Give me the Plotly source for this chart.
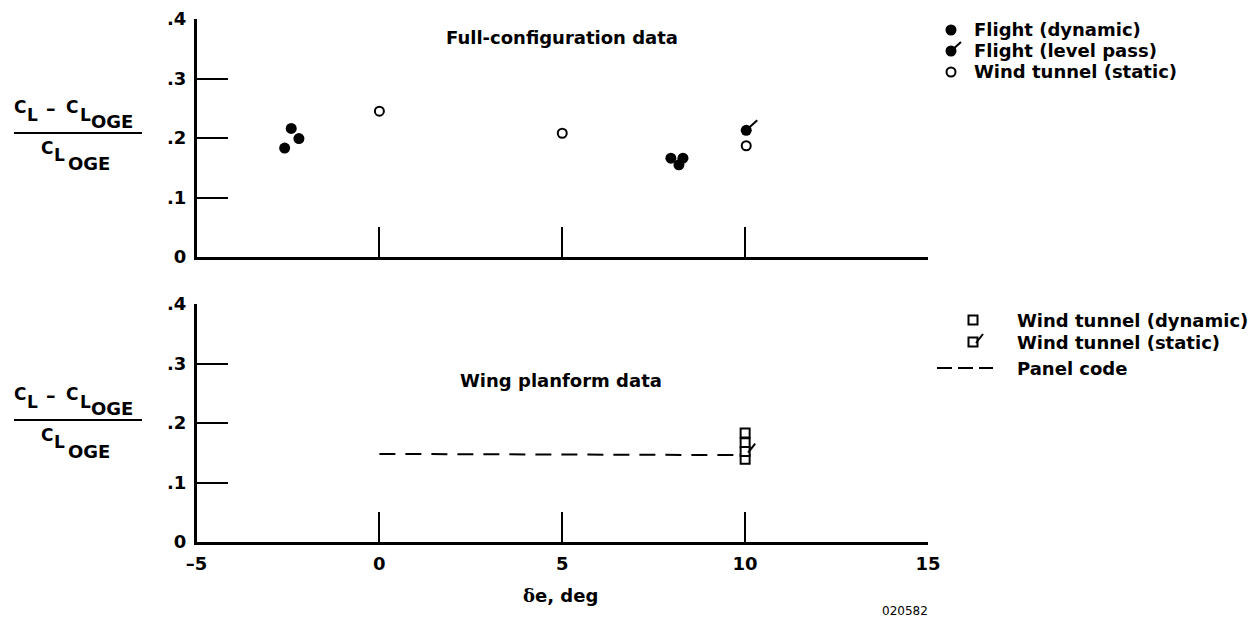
import plotly.graph_objects as go

W, H = 1251, 618

# ---------------- data ----------------
# Full-configuration data (top panel)
flight_dyn_x = [-2.59, -2.41, -2.20, 7.97, 8.30, 8.19]
flight_dyn_y = [0.183, 0.216, 0.199, 0.166, 0.166, 0.155]
flight_level_x = [10.03]
flight_level_y = [0.213]
wt_static_top_x = [0.0, 5.0, 10.03]
wt_static_top_y = [0.245, 0.208, 0.187]

# Wing planform data (bottom panel)
wt_dyn_x = [10.0, 10.0, 10.0]
wt_dyn_y = [0.183, 0.167, 0.139]
wt_static_bot_x = [10.0]
wt_static_bot_y = [0.152]
panel_x = [0.0, 10.0]
panel_y = [0.148, 0.146]

x_tickvals = [-5, 0, 5, 10, 15]
x_ticktext = ["\u20135", "0", "5", "10", "15"]
y_tickvals = [0, 0.1, 0.2, 0.3, 0.4]
y_ticktext = ["0", ".1", ".2", ".3", ".4"]

legend_top = ["Flight (dynamic)", "Flight (level pass)", "Wind tunnel (static)"]
legend_bot = ["Wind tunnel (dynamic)", "Wind tunnel (static)", "Panel code"]

FONT = "DejaVu Sans"


def px(x):
    return x / W


def py(y):
    return 1 - y / H


fig = go.Figure()

# top panel traces
fig.add_trace(go.Scatter(x=flight_dyn_x, y=flight_dyn_y, mode="markers",
                         marker=dict(symbol="circle", size=11, color="black", line=dict(width=0)),
                         xaxis="x", yaxis="y", showlegend=False))
fig.add_trace(go.Scatter(x=flight_level_x, y=flight_level_y, mode="markers",
                         marker=dict(symbol="circle", size=11, color="black", line=dict(width=0)),
                         xaxis="x", yaxis="y", showlegend=False))
fig.add_trace(go.Scatter(x=wt_static_top_x, y=wt_static_top_y, mode="markers",
                         marker=dict(symbol="circle", size=9, color="white", line=dict(width=2, color="black")),
                         xaxis="x", yaxis="y", showlegend=False))

# bottom panel traces
fig.add_trace(go.Scatter(x=panel_x, y=panel_y, mode="lines",
                         line=dict(color="black", width=2, dash="16px,10px"),
                         xaxis="x2", yaxis="y2", showlegend=False))
fig.add_trace(go.Scatter(x=wt_dyn_x, y=wt_dyn_y, mode="markers",
                         marker=dict(symbol="square", size=9, color="white", line=dict(width=2, color="black")),
                         xaxis="x2", yaxis="y2", showlegend=False))
fig.add_trace(go.Scatter(x=wt_static_bot_x, y=wt_static_bot_y, mode="markers",
                         marker=dict(symbol="square", size=9, color="white", line=dict(width=2, color="black")),
                         xaxis="x2", yaxis="y2", showlegend=False))

shapes = []
# flags on data points
shapes.append(dict(type="line", xref="x", yref="y", layer="above",
                   xsizemode="pixel", xanchor=flight_level_x[0], x0=0, x1=11,
                   ysizemode="pixel", yanchor=flight_level_y[0], y0=0, y1=10,
                   line=dict(color="black", width=2)))
shapes.append(dict(type="line", xref="x2", yref="y2", layer="above",
                   xsizemode="pixel", xanchor=wt_static_bot_x[0], x0=3, x1=10,
                   ysizemode="pixel", yanchor=wt_static_bot_y[0], y0=-1, y1=8,
                   line=dict(color="black", width=2)))

axis_common = dict(showline=True, linecolor="black", linewidth=2.5, ticks="inside",
                   tickcolor="black", tickwidth=2, showgrid=False, zeroline=False,
                   automargin=False, fixedrange=True,
                   tickfont=dict(family=FONT, size=18, color="black", weight="bold"))

xdom = [px(196.5), px(928)]
fig.update_layout(
    template="none",
    width=W, height=H, margin=dict(l=0, r=0, t=0, b=0, pad=0),
    paper_bgcolor="white", plot_bgcolor="white", showlegend=False,
    xaxis=dict(domain=xdom, range=[-5, 15], tickvals=x_tickvals, ticktext=x_ticktext,
               showticklabels=False, ticklen=30, anchor="y", **axis_common),
    yaxis=dict(domain=[py(257), py(19)], range=[0, 0.4], tickvals=y_tickvals, ticktext=y_ticktext,
               ticklen=31, anchor="x", ticklabelstandoff=4, **axis_common),
    xaxis2=dict(domain=xdom, range=[-5, 15], tickvals=x_tickvals, ticktext=x_ticktext,
                ticklen=30, anchor="y2", ticklabelstandoff=4, **axis_common),
    yaxis2=dict(domain=[py(542), py(304)], range=[0, 0.4], tickvals=y_tickvals, ticktext=y_ticktext,
                ticklen=31, anchor="x2", ticklabelstandoff=4, **axis_common),
)

ann = []


def text(t, x, y, size=18, xanchor="left", bold=True):
    ann.append(dict(text=t, x=px(x), y=py(y), xref="paper", yref="paper", showarrow=False,
                    xanchor=xanchor, yanchor="middle", borderpad=0,
                    font=dict(family=FONT, size=size, color="black", weight="bold" if bold else "normal")))


# panel titles
text("Full-configuration data", 562, 37, xanchor="center")
text("Wing planform data", 561, 380, xanchor="center")

# y-axis fraction labels
for off in (0, 287):
    text("C", 13, 107 + off, 17)
    text("L", 26, 115 + off, 17)
    text("\u2013", 45, 108 + off, 19)
    text("C", 65, 107 + off, 17)
    text("L", 79, 115 + off, 17)
    text("OGE", 90, 121 + off, 18)
    text("C", 40, 148 + off, 17)
    text("L", 53, 155 + off, 17)
    text("OGE", 67, 164 + off, 18)
    shapes.append(dict(type="line", xref="paper", yref="paper", x0=px(14), x1=px(142),
                       y0=py(133 + off), y1=py(133 + off), line=dict(color="black", width=2)))

# x-axis title and figure number
text("<span style='font-family:DejaVu Serif'>\u03b4</span>e, deg", 560, 595, xanchor="center")
text("020582", 905, 611, size=12, xanchor="center", bold=False)

# top legend
top_rows = [30, 51, 72]
for lbl, yy in zip(legend_top, top_rows):
    text(lbl, 973, yy)
for yy in top_rows[:2]:
    shapes.append(dict(type="circle", xref="paper", yref="paper", layer="above",
                       xsizemode="pixel", xanchor=px(951), x0=-5.5, x1=5.5,
                       ysizemode="pixel", yanchor=py(yy), y0=-5.5, y1=5.5,
                       fillcolor="black", line=dict(width=0)))
shapes.append(dict(type="line", xref="paper", yref="paper", layer="above",
                   xsizemode="pixel", xanchor=px(951), x0=0, x1=10,
                   ysizemode="pixel", yanchor=py(top_rows[1]), y0=0, y1=9,
                   line=dict(color="black", width=2)))
shapes.append(dict(type="circle", xref="paper", yref="paper", layer="above",
                   xsizemode="pixel", xanchor=px(951), x0=-4.5, x1=4.5,
                   ysizemode="pixel", yanchor=py(top_rows[2]), y0=-4.5, y1=4.5,
                   fillcolor="white", line=dict(width=2, color="black")))

# bottom legend
bot_rows = [320, 342, 368]
for lbl, yy in zip(legend_bot, bot_rows):
    text(lbl, 1016, yy)
for yy in bot_rows[:2]:
    shapes.append(dict(type="rect", xref="paper", yref="paper", layer="above",
                       xsizemode="pixel", xanchor=px(973), x0=-4.5, x1=4.5,
                       ysizemode="pixel", yanchor=py(yy), y0=-4.5, y1=4.5,
                       fillcolor="white", line=dict(width=2, color="black")))
shapes.append(dict(type="line", xref="paper", yref="paper", layer="above",
                   xsizemode="pixel", xanchor=px(973), x0=3, x1=10,
                   ysizemode="pixel", yanchor=py(bot_rows[1]), y0=-1, y1=8,
                   line=dict(color="black", width=2)))
shapes.append(dict(type="line", xref="paper", yref="paper", layer="above",
                   x0=px(937), x1=px(993), y0=py(bot_rows[2]), y1=py(bot_rows[2]),
                   line=dict(color="black", width=2, dash="15px,6px")))

fig.update_layout(annotations=ann, shapes=shapes)
fig.write_html("out.html",
               config={"displayModeBar": False, "staticPlot": True},
               post_script="document.body.style.margin='0px';document.body.style.overflow='hidden';")
